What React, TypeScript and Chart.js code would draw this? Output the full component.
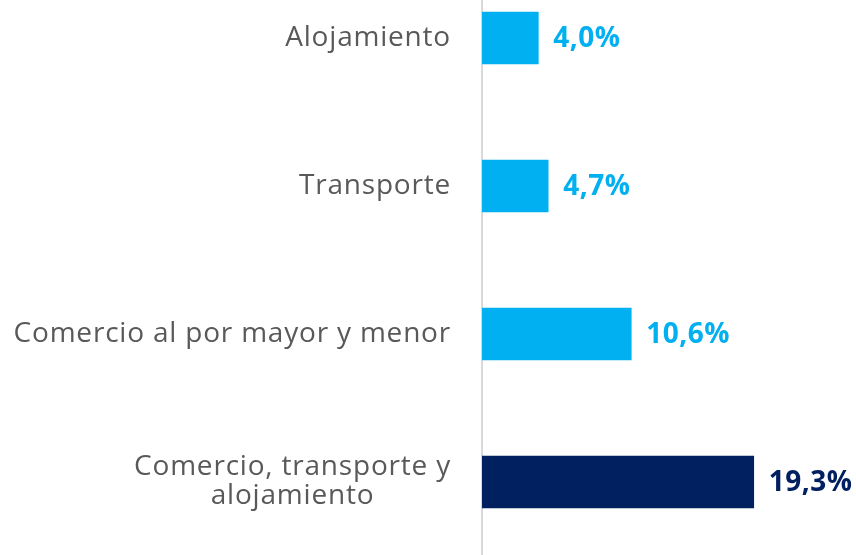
import React, { useEffect, useRef } from "react";
import { Chart, registerables } from "chart.js";

Chart.register(...registerables);

const categories: string[][] = [
  ["Alojamiento"],
  ["Transporte"],
  ["Comercio al por mayor y menor"],
  ["Comercio, transporte y", "alojamiento"],
];
const values: number[] = [4.0, 4.7, 10.6, 19.3];
const valueLabels: string[] = ["4,0%", "4,7%", "10,6%", "19,3%"];
const barColors: string[] = ["#00B0F0", "#00B0F0", "#00B0F0", "#002060"];

const LABEL_FONT = "28px 'Open Sans', sans-serif";
const VALUE_FONT = "bold 28px 'Open Sans', sans-serif";

const labelPlugin = {
  id: "customLabels",
  afterDraw(chart: any) {
    const ctx = chart.ctx;
    const yScale = chart.scales.y;
    const meta = chart.getDatasetMeta(0);
    ctx.save();
    // category labels
    ctx.font = LABEL_FONT;
    (ctx as any).letterSpacing = "0.8px";
    ctx.fillStyle = "#595959";
    ctx.textBaseline = "middle";
    ctx.textAlign = "center";
    const rightEdge = chart.chartArea.left - 31;
    const lineH = 29;
    categories.forEach((lines, i) => {
      const yc = yScale.getPixelForValue(i);
      const w = Math.max(...lines.map((l) => ctx.measureText(l).width));
      const cx = rightEdge - w / 2;
      const y0 = yc - ((lines.length - 1) * lineH) / 2;
      lines.forEach((l, j) => ctx.fillText(l, cx, y0 + j * lineH));
    });
    // value labels
    ctx.font = VALUE_FONT;
    (ctx as any).letterSpacing = "0.5px";
    ctx.textAlign = "left";
    meta.data.forEach((bar: any, i: number) => {
      ctx.fillStyle = barColors[i];
      ctx.fillText(valueLabels[i], bar.x + 15, bar.y + 1);
    });
    ctx.restore();
  },
};

export default function App() {
  const ref = useRef<HTMLCanvasElement | null>(null);
  useEffect(() => {
    document.body.style.margin = "0";
    const chart = new Chart(ref.current as HTMLCanvasElement, {
      type: "bar",
      data: {
        labels: categories.map((c) => c.join(" ")),
        datasets: [
          {
            data: values,
            backgroundColor: barColors,
            barThickness: 52,
            borderWidth: 0,
          },
        ],
      },
      options: {
        indexAxis: "y",
        animation: false,
        responsive: false,
        maintainAspectRatio: false,
        layout: { padding: { left: 482, right: 22, top: 0, bottom: 0 } },
        plugins: { legend: { display: false }, tooltip: { enabled: false } },
        scales: {
          x: { display: false, min: 0, max: 25 },
          y: {
            display: true,
            grid: { display: false },
            ticks: { display: false },
            border: { display: true, color: "#D9D9D9", width: 2 },
            afterFit: (s: any) => {
              s.width = 0;
            },
          },
        },
      },
      plugins: [labelPlugin],
    });
    return () => chart.destroy();
  }, []);
  return (
    <div style={{ position: "relative", width: 856, height: 555, overflow: "hidden", background: "#fff" }}>
      <canvas
        ref={ref}
        width={856}
        height={592}
        style={{ position: "absolute", left: 0, top: -36, width: 856, height: 592 }}
      />
    </div>
  );
}
